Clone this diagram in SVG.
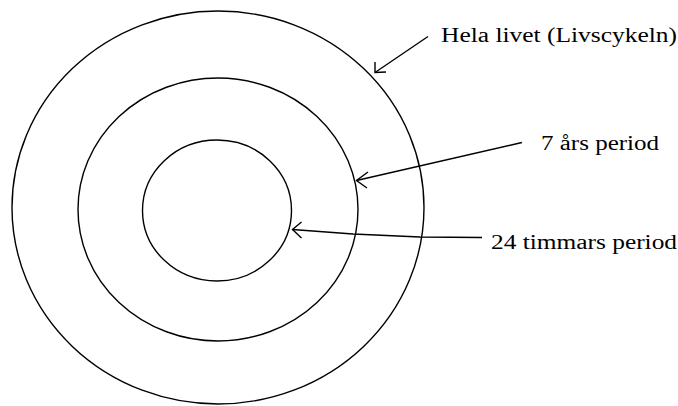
<svg xmlns="http://www.w3.org/2000/svg" width="678" height="406" viewBox="0 0 678 406">
<style>
.ring{fill:none;stroke:#000;stroke-width:1.4}
.con{fill:none;stroke:#000;stroke-width:1.4}
.lbl{font-family:"Liberation Serif","Times New Roman",serif;font-size:20px;fill:#000}
</style>
<rect width="678" height="406" fill="#fff"/>
<g id="outer"><ellipse class="ring" cx="218" cy="207.5" rx="206" ry="196.5"/></g>
<g id="middle"><ellipse class="ring" cx="218" cy="209.5" rx="140" ry="131.5"/></g>
<g id="inner"><ellipse class="ring" cx="217" cy="210.5" rx="74.5" ry="70.5"/></g>
<g id="label-hela"><text class="lbl" x="441" y="42" textLength="236" lengthAdjust="spacingAndGlyphs">Hela livet (Livscykeln)</text></g>
<g id="label-7"><text class="lbl" x="541" y="149.5" textLength="118" lengthAdjust="spacingAndGlyphs">7 års period</text></g>
<g id="label-24"><text class="lbl" x="491" y="248.5" textLength="186" lengthAdjust="spacingAndGlyphs">24 timmars period</text></g>
<g id="connectors">
<path class="con" d="M428 36.5 L375 72.5"/>
<path class="con" d="M375 62 L375 72.5 L386 72"/>
<path class="con" d="M522 142.5 L356.5 180.5"/>
<path class="con" d="M368 172 L356.5 180.5 L367 188"/>
<path class="con" d="M482 237.5 L420 237 L353 234 L292.5 229.5"/>
<path class="con" d="M301.5 222 L292.5 229.5 L301.5 238"/>
</g>
</svg>
